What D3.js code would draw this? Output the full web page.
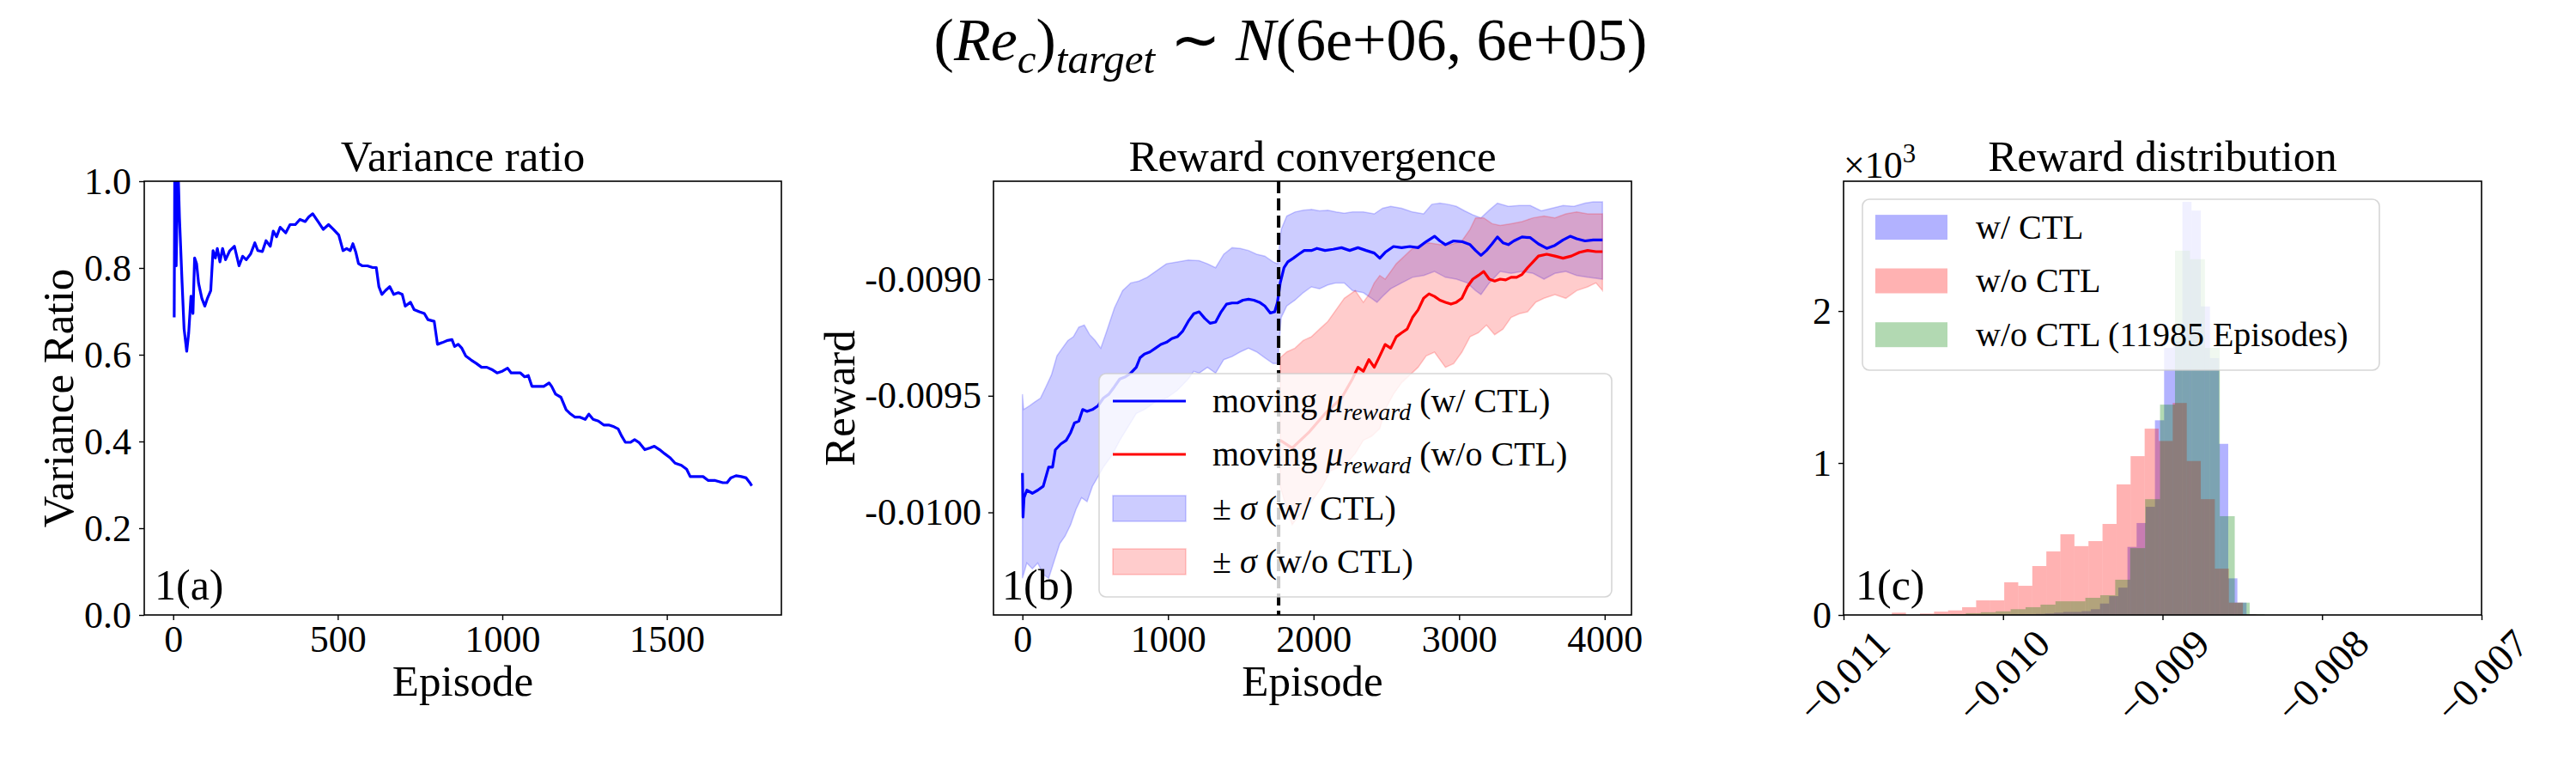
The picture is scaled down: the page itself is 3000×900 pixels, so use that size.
<!DOCTYPE html>
<html><head><meta charset="utf-8">
<script src="https://cdn.jsdelivr.net/npm/d3@7"></script>
<style>body{margin:0;background:#fff}svg{display:block}</style>
</head><body><svg id="c" width="3000" height="900"></svg>
<script>
// ---------- DATA ----------
const aXTicks = [0, 500, 1000, 1500];
const aYTicks = [0, 0.2, 0.4, 0.6, 0.8, 1.0];
const varEpisode = [3,5,9,14,19,27,33,41,47,54,60,65,71,77,87,96,104,114,121,128,134,142,150,159,172,186,200,211,222,235,248,257,271,282,295,304,314,325,342,355,371,385,401,412,424,440,456,472,487,503,516,527,538,546,555,563,574,590,606,617,625,634,645,658,670,684,696,705,721,732,748,763,774,793,803,818,834,847,855,866,877,889,905,921,937,953,968,984,1000,1016,1027,1039,1055,1068,1079,1090,1105,1126,1142,1150,1162,1178,1194,1205,1221,1236,1252,1263,1276,1292,1308,1323,1339,1352,1363,1374,1389,1402,1415,1433,1449,1462,1478,1493,1509,1525,1544,1560,1571,1591,1610,1626,1647,1670,1683,1694,1710,1726,1741,1752,1758];
const varRatio = [0.686,1.10,0.805,1.05,0.916,0.765,0.66,0.608,0.65,0.735,0.695,0.823,0.81,0.765,0.73,0.712,0.73,0.748,0.84,0.823,0.845,0.814,0.845,0.819,0.84,0.85,0.805,0.827,0.819,0.832,0.858,0.84,0.838,0.863,0.85,0.885,0.872,0.894,0.881,0.9,0.9,0.912,0.907,0.918,0.925,0.907,0.889,0.9,0.889,0.876,0.84,0.845,0.84,0.856,0.836,0.81,0.805,0.805,0.801,0.801,0.757,0.739,0.748,0.757,0.739,0.743,0.739,0.712,0.721,0.704,0.699,0.695,0.681,0.677,0.624,0.628,0.633,0.635,0.619,0.624,0.615,0.597,0.588,0.58,0.571,0.571,0.566,0.558,0.562,0.569,0.558,0.558,0.558,0.549,0.552,0.527,0.527,0.527,0.535,0.527,0.509,0.502,0.473,0.465,0.456,0.456,0.451,0.463,0.451,0.447,0.438,0.438,0.434,0.429,0.412,0.398,0.398,0.404,0.398,0.381,0.385,0.389,0.381,0.372,0.363,0.35,0.345,0.336,0.319,0.319,0.319,0.31,0.31,0.305,0.305,0.316,0.321,0.319,0.316,0.305,0.298];

const bXTicks = [0, 1000, 2000, 3000, 4000];
const bYTicks = [-0.0100, -0.0095, -0.0090];
const switchEpisode = 1760;
const blueMean = [[0,-0.009831],[4,-0.010020],[11,-0.009937],[30,-0.009905],[68,-0.009918],[105,-0.009905],[143,-0.009888],[180,-0.009806],[207,-0.009806],[226,-0.009732],[263,-0.009707],[301,-0.009691],[331,-0.009658],[357,-0.009617],[387,-0.009609],[414,-0.009559],[444,-0.009567],[481,-0.009559],[519,-0.009543],[556,-0.009510],[594,-0.009493],[632,-0.009461],[669,-0.009428],[707,-0.009419],[744,-0.009403],[782,-0.009378],[808,-0.009337],[838,-0.009321],[876,-0.009312],[914,-0.009296],[951,-0.009280],[989,-0.009271],[1026,-0.009255],[1064,-0.009247],[1102,-0.009222],[1139,-0.009181],[1177,-0.009148],[1214,-0.009140],[1252,-0.009168],[1289,-0.009189],[1327,-0.009184],[1365,-0.009140],[1402,-0.009107],[1440,-0.009102],[1477,-0.009102],[1515,-0.009090],[1553,-0.009086],[1590,-0.009090],[1628,-0.009099],[1665,-0.009115],[1703,-0.009145],[1733,-0.009140],[1752,-0.009099],[1771,-0.009016],[1797,-0.008951],[1823,-0.008926],[1861,-0.008910],[1898,-0.008893],[1936,-0.008877],[1985,-0.008877],[2023,-0.008868],[2079,-0.008877],[2135,-0.008872],[2192,-0.008865],[2248,-0.008877],[2305,-0.008865],[2361,-0.008877],[2417,-0.008888],[2455,-0.008910],[2492,-0.008885],[2549,-0.008860],[2605,-0.008865],[2662,-0.008860],[2718,-0.008865],[2774,-0.008839],[2831,-0.008816],[2868,-0.008836],[2906,-0.008852],[2962,-0.008836],[3019,-0.008839],[3075,-0.008852],[3113,-0.008877],[3150,-0.008898],[3188,-0.008877],[3226,-0.008849],[3263,-0.008819],[3301,-0.008844],[3338,-0.008852],[3376,-0.008836],[3432,-0.008819],[3489,-0.008822],[3545,-0.008849],[3602,-0.008868],[3658,-0.008855],[3714,-0.008832],[3763,-0.008816],[3808,-0.008827],[3865,-0.008836],[3921,-0.008832],[3985,-0.008832]];
const blueUpper = [[0,-0.009493],[8,-0.009559],[49,-0.009543],[86,-0.009526],[124,-0.009510],[162,-0.009461],[199,-0.009411],[237,-0.009329],[274,-0.009296],[312,-0.009263],[350,-0.009247],[387,-0.009206],[425,-0.009197],[462,-0.009238],[500,-0.009263],[538,-0.009296],[575,-0.009230],[632,-0.009123],[688,-0.009049],[744,-0.009016],[801,-0.009008],[857,-0.008992],[914,-0.008967],[989,-0.008934],[1064,-0.008926],[1139,-0.008918],[1214,-0.008921],[1271,-0.008934],[1327,-0.008951],[1383,-0.008893],[1440,-0.008865],[1496,-0.008868],[1553,-0.008877],[1609,-0.008893],[1665,-0.008901],[1722,-0.008926],[1752,-0.008934],[1778,-0.008786],[1816,-0.008729],[1872,-0.008712],[1929,-0.008704],[1985,-0.008701],[2041,-0.008707],[2098,-0.008704],[2154,-0.008712],[2211,-0.008717],[2267,-0.008712],[2342,-0.008712],[2417,-0.008720],[2474,-0.008696],[2530,-0.008688],[2605,-0.008696],[2680,-0.008712],[2756,-0.008720],[2812,-0.008679],[2868,-0.008674],[2925,-0.008679],[2981,-0.008688],[3038,-0.008707],[3094,-0.008724],[3150,-0.008737],[3207,-0.008704],[3263,-0.008674],[3338,-0.008688],[3414,-0.008684],[3489,-0.008684],[3564,-0.008707],[3636,-0.008696],[3714,-0.008684],[3789,-0.008688],[3865,-0.008674],[3921,-0.008668],[3985,-0.008668]];
const blueLower = [[0,-0.010283],[30,-0.010217],[68,-0.010242],[105,-0.010217],[143,-0.010266],[180,-0.010283],[218,-0.010209],[256,-0.010135],[293,-0.010102],[331,-0.010053],[368,-0.009987],[406,-0.009937],[444,-0.009954],[481,-0.009888],[519,-0.009847],[556,-0.009806],[613,-0.009757],[669,-0.009691],[726,-0.009633],[782,-0.009576],[838,-0.009559],[914,-0.009526],[989,-0.009510],[1064,-0.009477],[1139,-0.009428],[1177,-0.009395],[1214,-0.009403],[1271,-0.009378],[1327,-0.009403],[1383,-0.009345],[1440,-0.009332],[1496,-0.009312],[1553,-0.009296],[1609,-0.009312],[1665,-0.009337],[1722,-0.009362],[1752,-0.009362],[1778,-0.009164],[1816,-0.009115],[1872,-0.009090],[1929,-0.009058],[1985,-0.009033],[2041,-0.009041],[2098,-0.009025],[2154,-0.009016],[2211,-0.009016],[2267,-0.009049],[2342,-0.009058],[2398,-0.009082],[2436,-0.009099],[2474,-0.009074],[2530,-0.009041],[2605,-0.009016],[2680,-0.008992],[2756,-0.008984],[2831,-0.008967],[2906,-0.008992],[2981,-0.009000],[3056,-0.009016],[3113,-0.009049],[3150,-0.009066],[3207,-0.009016],[3282,-0.008967],[3357,-0.008975],[3432,-0.008967],[3508,-0.008975],[3583,-0.009000],[3658,-0.008975],[3733,-0.008967],[3808,-0.008984],[3883,-0.008992],[3985,-0.009000]];
const redMean = [[1771,-0.009691],[1853,-0.009724],[1966,-0.009658],[2079,-0.009576],[2192,-0.009510],[2267,-0.009428],[2305,-0.009378],[2342,-0.009395],[2380,-0.009345],[2417,-0.009378],[2455,-0.009329],[2492,-0.009280],[2530,-0.009296],[2568,-0.009247],[2605,-0.009230],[2643,-0.009214],[2680,-0.009164],[2718,-0.009132],[2756,-0.009082],[2793,-0.009063],[2831,-0.009074],[2868,-0.009090],[2906,-0.009099],[2944,-0.009107],[2981,-0.009099],[3019,-0.009082],[3056,-0.009033],[3094,-0.009000],[3132,-0.008984],[3169,-0.008967],[3207,-0.009000],[3244,-0.009008],[3282,-0.009000],[3320,-0.009003],[3357,-0.008992],[3395,-0.008992],[3432,-0.008980],[3470,-0.008951],[3508,-0.008926],[3545,-0.008901],[3602,-0.008893],[3658,-0.008901],[3714,-0.008910],[3771,-0.008901],[3827,-0.008885],[3883,-0.008877],[3940,-0.008882],[3985,-0.008882]];
const redUpper = [[1771,-0.009337],[1816,-0.009312],[1872,-0.009296],[1929,-0.009263],[1985,-0.009247],[2041,-0.009214],[2098,-0.009181],[2154,-0.009132],[2211,-0.009082],[2286,-0.009049],[2342,-0.009099],[2380,-0.009066],[2417,-0.009016],[2455,-0.008984],[2492,-0.009000],[2530,-0.008967],[2568,-0.008934],[2624,-0.008901],[2680,-0.008868],[2737,-0.008852],[2793,-0.008844],[2868,-0.008852],[2944,-0.008852],[3019,-0.008836],[3075,-0.008786],[3113,-0.008737],[3169,-0.008737],[3226,-0.008762],[3282,-0.008770],[3357,-0.008762],[3432,-0.008753],[3508,-0.008737],[3583,-0.008729],[3658,-0.008737],[3733,-0.008720],[3808,-0.008712],[3883,-0.008720],[3985,-0.008720]];
const redLower = [[1771,-0.009888],[1816,-0.009987],[1853,-0.010053],[1891,-0.010020],[1947,-0.009987],[2004,-0.009938],[2060,-0.009888],[2117,-0.009822],[2173,-0.009806],[2229,-0.009789],[2286,-0.009748],[2342,-0.009691],[2398,-0.009674],[2455,-0.009641],[2492,-0.009559],[2549,-0.009493],[2605,-0.009444],[2662,-0.009411],[2718,-0.009378],[2774,-0.009329],[2831,-0.009313],[2906,-0.009378],[2962,-0.009362],[3019,-0.009313],[3075,-0.009247],[3132,-0.009230],[3188,-0.009197],[3244,-0.009238],[3301,-0.009214],[3357,-0.009164],[3414,-0.009148],[3470,-0.009140],[3526,-0.009099],[3583,-0.009082],[3658,-0.009066],[3733,-0.009082],[3808,-0.009049],[3883,-0.009033],[3940,-0.009016],[3985,-0.009049]];

const cXTicks = [-0.011, -0.010, -0.009, -0.008, -0.007];
const cYTicks = [0, 1000, 2000];
const histBlueRange = [-0.010024, -0.008416];
const histBlueCounts = [2,3,4,5,7,10,15,20,20,25,38,75,124,180,448,605,712,1281,1757,1800,2718,2661,2030,1690,1126,241,81,3];
const histRedRange = [-0.010697, -0.008408];
const histRedCounts = [15,0,9,22,30,51,96,96,215,192,322,418,531,453,486,599,859,1045,1226,1145,1395,1013,762,305,81,3];
const histGreenRange = [-0.010421, -0.008360];
const histGreenCounts = [3,6,12,18,24,38,51,68,90,90,113,130,232,440,762,1384,2397,2341,1757,650,81,5];

// ---------- DRAWING ----------
const FONT = '"Liberation Serif","Times New Roman",serif';
const svg = d3.select("#c");
svg.append("rect").attr("width",3000).attr("height",900).attr("fill","#fff");

function rich(parent, x, y, parts, fs, anchor) {
  const t = parent.append("text").attr("x", x).attr("y", y)
    .attr("font-family", FONT).attr("font-size", fs).attr("text-anchor", anchor || "start").attr("fill","#000");
  let shifted = 0;
  parts.forEach(p => {
    const s = t.append("tspan").text(p.t);
    if (p.it) s.attr("font-style", "italic");
    const want = p.sub ? 0.22 * fs : (p.sup ? -0.4 * fs : 0);
    if (want !== shifted) { s.attr("dy", want - shifted); shifted = want; }
    if (p.sub || p.sup) s.attr("font-size", fs * 0.7);
  });
  return t;
}
function frame(p) {
  svg.append("rect").attr("x", p.x0).attr("y", p.y0).attr("width", p.x1 - p.x0).attr("height", p.y1 - p.y0)
    .attr("fill", "none").attr("stroke", "#000").attr("stroke-width", 1.6);
}
function styleAxis(g) {
  g.select(".domain").remove();
  g.selectAll(".tick line").attr("stroke", "#000").attr("stroke-width", 1.4);
  g.selectAll(".tick text").attr("font-size", 44).attr("font-family", FONT).attr("fill", "#000");
}
function plainText(x, y, s, fs, anchor, rot) {
  const t = svg.append("text").attr("font-family", FONT).attr("font-size", fs).attr("fill","#000")
    .attr("text-anchor", anchor || "middle").text(s);
  if (rot) t.attr("transform", `translate(${x},${y}) rotate(${rot})`); else t.attr("x", x).attr("y", y);
  return t;
}

const PA = {x0:168, x1:910, y0:211, y1:716};
const PB = {x0:1157, x1:1900, y0:211, y1:716};
const PC = {x0:2147, x1:2890, y0:211, y1:716};

// Suptitle
rich(svg, 1503, 70, [
  {t:"("}, {t:"Re", it:1}, {t:"c", it:1, sub:1}, {t:")"}, {t:"target", it:1, sub:1},
  {t:" \u223C "}, {t:"N", it:1}, {t:"(6e+06, 6e+05)"}], 70, "middle");

// ---------- Panel A ----------
{
  const x = d3.scaleLinear([-88, 1848], [PA.x0, PA.x1]);
  const y = d3.scaleLinear([0, 1], [PA.y1, PA.y0]);
  svg.append("clipPath").attr("id", "clipA").append("rect")
    .attr("x", PA.x0).attr("y", PA.y0).attr("width", PA.x1 - PA.x0).attr("height", PA.y1 - PA.y0);
  const pts = varEpisode.map((e, i) => [e, varRatio[i]]);
  svg.append("path").attr("clip-path", "url(#clipA)").attr("d", d3.line().x(d => x(d[0])).y(d => y(d[1]))(pts))
    .attr("fill", "none").attr("stroke", "#0000ff").attr("stroke-width", 3.2).attr("stroke-linejoin", "round");
  frame(PA);
  styleAxis(svg.append("g").attr("transform", `translate(0,${PA.y1})`)
    .call(d3.axisBottom(x).tickValues(aXTicks).tickSize(6).tickPadding(6).tickFormat(d3.format("d"))));
  styleAxis(svg.append("g").attr("transform", `translate(${PA.x0},0)`)
    .call(d3.axisLeft(y).tickValues(aYTicks).tickSize(6).tickPadding(9).tickFormat(d => d.toFixed(1))));
  plainText((PA.x0 + PA.x1) / 2, 199, "Variance ratio", 51);
  plainText((PA.x0 + PA.x1) / 2, 810, "Episode", 51);
  plainText(85, (PA.y0 + PA.y1) / 2, "Variance Ratio", 51, "middle", -90);
  plainText(PA.x0 + 12, PA.y1 - 18, "1(a)", 50, "start");
}

// ---------- Panel B ----------
{
  const x = d3.scaleLinear([-199, 4184], [PB.x0, PB.x1]);
  const y = d3.scaleLinear([-0.01044, -0.00858], [PB.y1, PB.y0]);
  svg.append("clipPath").attr("id", "clipB").append("rect")
    .attr("x", PB.x0).attr("y", PB.y0).attr("width", PB.x1 - PB.x0).attr("height", PB.y1 - PB.y0);
  const g = svg.append("g").attr("clip-path", "url(#clipB)");
  const line = d3.line().x(d => x(d[0])).y(d => y(d[1]));
  const band = (up, lo) => line(up.concat(lo.slice().reverse())) + "Z";
  g.append("path").attr("d", band(blueUpper, blueLower)).attr("fill", "rgba(0,0,255,0.2)")
    .attr("stroke", "rgba(0,0,255,0.2)").attr("stroke-width", 1.5);
  g.append("path").attr("d", band(redUpper, redLower)).attr("fill", "rgba(255,0,0,0.2)")
    .attr("stroke", "rgba(255,0,0,0.2)").attr("stroke-width", 1.5);
  g.append("path").attr("d", line(blueMean)).attr("fill", "none").attr("stroke", "#0000ff").attr("stroke-width", 3.2).attr("stroke-linejoin","round");
  g.append("path").attr("d", line(redMean)).attr("fill", "none").attr("stroke", "#ff0000").attr("stroke-width", 3.2).attr("stroke-linejoin","round");
  svg.append("line").attr("x1", x(switchEpisode)).attr("x2", x(switchEpisode)).attr("y1", PB.y0).attr("y2", PB.y1)
    .attr("stroke", "#000").attr("stroke-width", 4).attr("stroke-dasharray", "14,6");
  frame(PB);
  styleAxis(svg.append("g").attr("transform", `translate(0,${PB.y1})`)
    .call(d3.axisBottom(x).tickValues(bXTicks).tickSize(6).tickPadding(6).tickFormat(d3.format("d"))));
  styleAxis(svg.append("g").attr("transform", `translate(${PB.x0},0)`)
    .call(d3.axisLeft(y).tickValues(bYTicks).tickSize(6).tickPadding(8).tickFormat(d => d.toFixed(4))));
  plainText((PB.x0 + PB.x1) / 2, 199, "Reward convergence", 51);
  plainText((PB.x0 + PB.x1) / 2, 810, "Episode", 51);
  plainText(995, (PB.y0 + PB.y1) / 2, "Reward", 51, "middle", -90);
  plainText(PB.x0 + 10, PB.y1 - 18, "1(b)", 50, "start");
  // legend
  const L = svg.append("g");
  L.append("rect").attr("x", 1280).attr("y", 435).attr("width", 597).attr("height", 260).attr("rx", 8)
    .attr("fill", "rgba(255,255,255,0.8)").attr("stroke", "rgba(204,204,204,0.8)").attr("stroke-width", 1.6);
  const rows = [467, 529, 592, 654];
  L.append("line").attr("x1", 1296).attr("x2", 1381).attr("y1", rows[0]).attr("y2", rows[0]).attr("stroke", "#0000ff").attr("stroke-width", 3.2);
  L.append("line").attr("x1", 1296).attr("x2", 1381).attr("y1", rows[1]).attr("y2", rows[1]).attr("stroke", "#ff0000").attr("stroke-width", 3.2);
  L.append("rect").attr("x", 1296).attr("y", rows[2] - 15).attr("width", 85).attr("height", 30)
    .attr("fill", "rgba(0,0,255,0.2)").attr("stroke", "rgba(0,0,255,0.2)").attr("stroke-width", 1.5);
  L.append("rect").attr("x", 1296).attr("y", rows[3] - 15).attr("width", 85).attr("height", 30)
    .attr("fill", "rgba(255,0,0,0.2)").attr("stroke", "rgba(255,0,0,0.2)").attr("stroke-width", 1.5);
  rich(L, 1412, rows[0] + 13, [{t:"moving "}, {t:"\u03BC", it:1}, {t:"reward", it:1, sub:1}, {t:" (w/ CTL)"}], 40);
  rich(L, 1412, rows[1] + 13, [{t:"moving "}, {t:"\u03BC", it:1}, {t:"reward", it:1, sub:1}, {t:" (w/o CTL)"}], 40);
  rich(L, 1412, rows[2] + 13, [{t:"\u00B1 "}, {t:"\u03C3", it:1}, {t:" (w/ CTL)"}], 40);
  rich(L, 1412, rows[3] + 13, [{t:"\u00B1 "}, {t:"\u03C3", it:1}, {t:" (w/o CTL)"}], 40);
}

// ---------- Panel C ----------
{
  const x = d3.scaleLinear([-0.011, -0.007], [PC.x0, PC.x1]);
  const y = d3.scaleLinear([0, 2854], [PC.y1, PC.y0]);
  const series = [
    {range: histBlueRange, counts: histBlueCounts, color: "#0000ff"},
    {range: histRedRange, counts: histRedCounts, color: "#ff0000"},
    {range: histGreenRange, counts: histGreenCounts, color: "#008000"}];
  series.forEach(s => {
    const w = (s.range[1] - s.range[0]) / s.counts.length;
    const bins = s.counts.map((c, i) => ({x0: s.range[0] + i * w, x1: s.range[0] + (i + 1) * w, c}));
    svg.append("g").attr("fill", s.color).attr("fill-opacity", 0.3).selectAll("rect")
      .data(bins.filter(b => b.c > 0)).join("rect")
      .attr("x", b => x(b.x0)).attr("width", b => x(b.x1) - x(b.x0))
      .attr("y", b => y(b.c)).attr("height", b => y(0) - y(b.c));
  });
  frame(PC);
  const gx = svg.append("g").attr("transform", `translate(0,${PC.y1})`)
    .call(d3.axisBottom(x).tickValues(cXTicks).tickSize(6).tickPadding(6)
      .tickFormat(d => "\u2212" + Math.abs(d).toFixed(3)));
  styleAxis(gx);
  gx.selectAll(".tick text").attr("y", null).attr("dy", null).attr("text-anchor", "middle")
    .attr("font-size", 46).attr("dominant-baseline", "central").attr("transform", "translate(0,71) rotate(-45)");
  styleAxis(svg.append("g").attr("transform", `translate(${PC.x0},0)`)
    .call(d3.axisLeft(y).tickValues(cYTicks).tickSize(6).tickPadding(8).tickFormat(d => d3.format("d")(d / 1000))));
  rich(svg, PC.x0, 207, [{t:"\u00D710"}, {t:"3", sup:1}], 44, "start");
  plainText((PC.x0 + PC.x1) / 2, 199, "Reward distribution", 51);
  plainText(PC.x0 + 14, PC.y1 - 18, "1(c)", 50, "start");
  const L = svg.append("g");
  L.append("rect").attr("x", 2169).attr("y", 232).attr("width", 602).attr("height", 199).attr("rx", 8)
    .attr("fill", "rgba(255,255,255,0.8)").attr("stroke", "rgba(204,204,204,0.8)").attr("stroke-width", 1.6);
  const rows = [264.6, 327, 389.7];
  const labels = ["w/ CTL", "w/o CTL", "w/o CTL (11985 Episodes)"];
  series.forEach((s, i) => {
    L.append("rect").attr("x", 2184).attr("y", rows[i] - 14.5).attr("width", 84).attr("height", 29)
      .attr("fill", s.color).attr("fill-opacity", 0.3);
    rich(L, 2301, rows[i] + 13, [{t: labels[i]}], 40);
  });
}
</script></body></html>
